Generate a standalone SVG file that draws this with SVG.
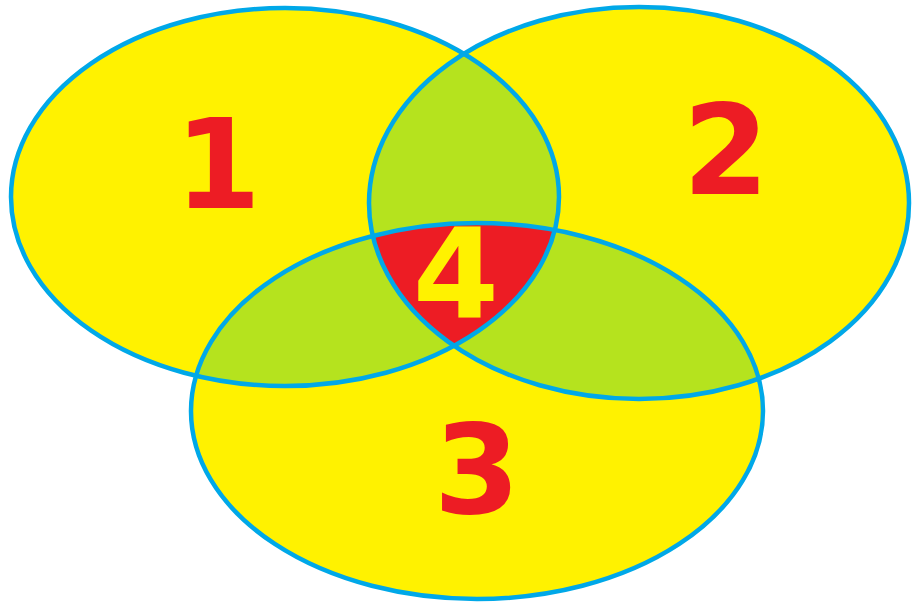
<svg xmlns="http://www.w3.org/2000/svg" width="912" height="605" viewBox="0 0 912 605">
<style>
.fill{fill:#fff200;stroke:none}
.green{fill:#b5e31e;stroke:none}
.red{fill:#ed1c24;stroke:none}
.edge{fill:none;stroke:#00a8e8;stroke-width:4.5}
.lbl{font-family:"DejaVu Sans",Verdana,sans-serif;font-weight:bold;font-size:124px;text-anchor:middle}
</style>
<defs>
<ellipse id="s1" cx="285" cy="197" rx="274" ry="189"/>
<ellipse id="s2" cx="639" cy="203" rx="270" ry="196"/>
<ellipse id="s3" cx="477" cy="411" rx="286" ry="188"/>
<clipPath id="c1"><use href="#s1"/></clipPath>
<clipPath id="c2"><use href="#s2"/></clipPath>
<clipPath id="c3"><use href="#s3"/></clipPath>
</defs>
<rect width="912" height="605" fill="#ffffff"/>
<g id="set1"><use href="#s1" class="fill"/></g>
<g id="set2"><use href="#s2" class="fill"/></g>
<g id="set3"><use href="#s3" class="fill"/></g>
<g id="overlaps">
<use href="#s2" class="green" clip-path="url(#c1)"/>
<use href="#s3" class="green" clip-path="url(#c1)"/>
<use href="#s3" class="green" clip-path="url(#c2)"/>
<g clip-path="url(#c2)"><use href="#s3" class="red" clip-path="url(#c1)"/></g>
</g>
<g id="outlines">
<use href="#s1" class="edge"/>
<use href="#s2" class="edge"/>
<use href="#s3" class="edge"/>
</g>
<g id="labels">
<text class="lbl" x="218" y="208" fill="#ed1c24">1</text>
<text class="lbl" x="726" y="194" fill="#ed1c24">2</text>
<text class="lbl" x="477" y="513" fill="#ed1c24">3</text>
<text class="lbl" x="456" y="318" fill="#fff200">4</text>
</g>
</svg>
